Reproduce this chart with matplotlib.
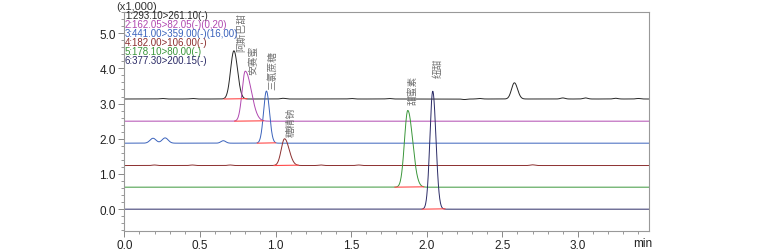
import numpy as np
import matplotlib.pyplot as plt
from matplotlib.ticker import MultipleLocator

plt.rcParams['font.family'] = ['Noto Sans CJK SC', 'DejaVu Sans']

# channel info
channel_labels = ['1:293.10>261.10(-)', '2:162.05>82.05(-)(0,20)',
                  '3:441.00>359.00(-)(16,00)', '4:182.00>106.00(-)',
                  '5:178.10>80.00(-)', '6:377.30>200.15(-)']
channel_colors = ['#262626', '#b048b0', '#3a62bc', '#8c2f2f', '#3a963a', '#2a2a66']
baselines = [3.13, 2.50, 1.875, 1.24, 0.625, 0.00]  # x1,000

# peaks per channel: (retention time, height above baseline, left sigma, right sigma)
peak_rt = [[0.725, 2.58], [0.80], [0.19, 0.27, 0.655, 0.94], [1.06], [1.875], [2.04]]
peak_h = [[1.37, 0.46], [1.42], [0.14, 0.15, 0.07, 1.48], [0.76], [2.18], [3.35]]
peak_sl = [[0.022, 0.019], [0.021], [0.020, 0.020, 0.016, 0.019], [0.022], [0.022], [0.019]]
peak_sr = [[0.024, 0.021], [0.040], [0.020, 0.020, 0.016, 0.020], [0.030], [0.032], [0.021]]

# small baseline wiggles (channels 1 and 4)
noise_rt = [[0.25, 0.45, 1.05, 1.5, 1.75, 2.25, 2.35, 2.9, 3.05, 3.25, 3.4],
            [], [], [0.2, 0.45, 0.7, 1.3, 1.55, 2.7], [], []]
noise_h = [[0.015, 0.015, 0.02, 0.015, 0.015, -0.015, 0.015, 0.03, 0.03, 0.02, 0.015],
           [], [], [0.015, 0.015, 0.015, 0.015, 0.015, 0.02], [], []]

# integration limits of main peaks
integ = [(0, 0.66, 0.81), (1, 0.73, 0.92), (2, 0.88, 1.00),
         (3, 0.99, 1.15), (4, 1.79, 1.98), (5, 1.97, 2.12)]

compound_names = ['阿斯巴甜', '安赛蜜', '三氯蔗糖', '糖精钠', '甜蜜素', '纽甜']
name_x = [0.772, 0.85, 0.98, 1.10, 1.905, 2.07]
name_y = [4.50, 3.84, 3.42, 2.07, 2.99, 3.76]

t = np.linspace(0, 3.47, 3000)

fig = plt.figure(figsize=(7.57, 2.51), dpi=100)
ax = fig.add_axes([0.1642, 0.0757, 0.6931, 0.8737])

for i in range(6):
    y = np.full_like(t, baselines[i])
    for rt, h, sl, sr in zip(peak_rt[i], peak_h[i], peak_sl[i], peak_sr[i]):
        s = np.where(t < rt, sl, sr)
        y += h * np.exp(-0.5 * ((t - rt) / s) ** 2)
    for rt, h in zip(noise_rt[i], noise_h[i]):
        y += h * np.exp(-0.5 * ((t - rt) / 0.015) ** 2)
    ax.plot(t, y, color=channel_colors[i], lw=0.7)

for ch, a, b in integ:
    ax.plot([a, b], [baselines[ch], baselines[ch] + 0.01], color='#ff4a4a', lw=0.8)

for name, x, y in zip(compound_names, name_x, name_y):
    ax.text(x, y, name, rotation=90, fontsize=7, color='#707070',
            ha='center', va='bottom')

for i, lab in enumerate(channel_labels):
    ax.text(0.001, 0.986 - i * 0.041, lab, transform=ax.transAxes, fontsize=7.0,
            color=channel_colors[i], va='center', ha='left', family='Liberation Sans')

ax.text(-0.016, 1.003, '(x1,000)', transform=ax.transAxes, fontsize=8,
        color='#333333', ha='left', va='bottom', family='Liberation Sans')

ax.set_xlim(0, 3.47)
ax.set_ylim(-0.62, 5.61)
ax.xaxis.set_major_locator(MultipleLocator(0.5))
ax.xaxis.set_minor_locator(MultipleLocator(0.1))
ax.yaxis.set_major_locator(MultipleLocator(1.0))
ax.yaxis.set_minor_locator(MultipleLocator(0.2))
ax.xaxis.set_major_formatter(lambda v, p: f'{v:.1f}')
ax.yaxis.set_major_formatter(lambda v, p: f'{v:.1f}')
ax.tick_params(which='both', direction='out', colors='#888888', labelcolor='#222222',
               labelsize=8.5, pad=2)
ax.tick_params(which='major', length=4, width=0.7)
ax.tick_params(which='minor', length=2, width=0.6)
for lbl in ax.get_xticklabels() + ax.get_yticklabels():
    lbl.set_family('Liberation Sans')
for sp in ax.spines.values():
    sp.set_color('#999999')
    sp.set_linewidth(0.8)

fig.text(0.849, 0.005, 'min', fontsize=8.5, color='#222222', ha='center', va='bottom',
         family='Liberation Sans')

fig.savefig('out.png', dpi=100)
